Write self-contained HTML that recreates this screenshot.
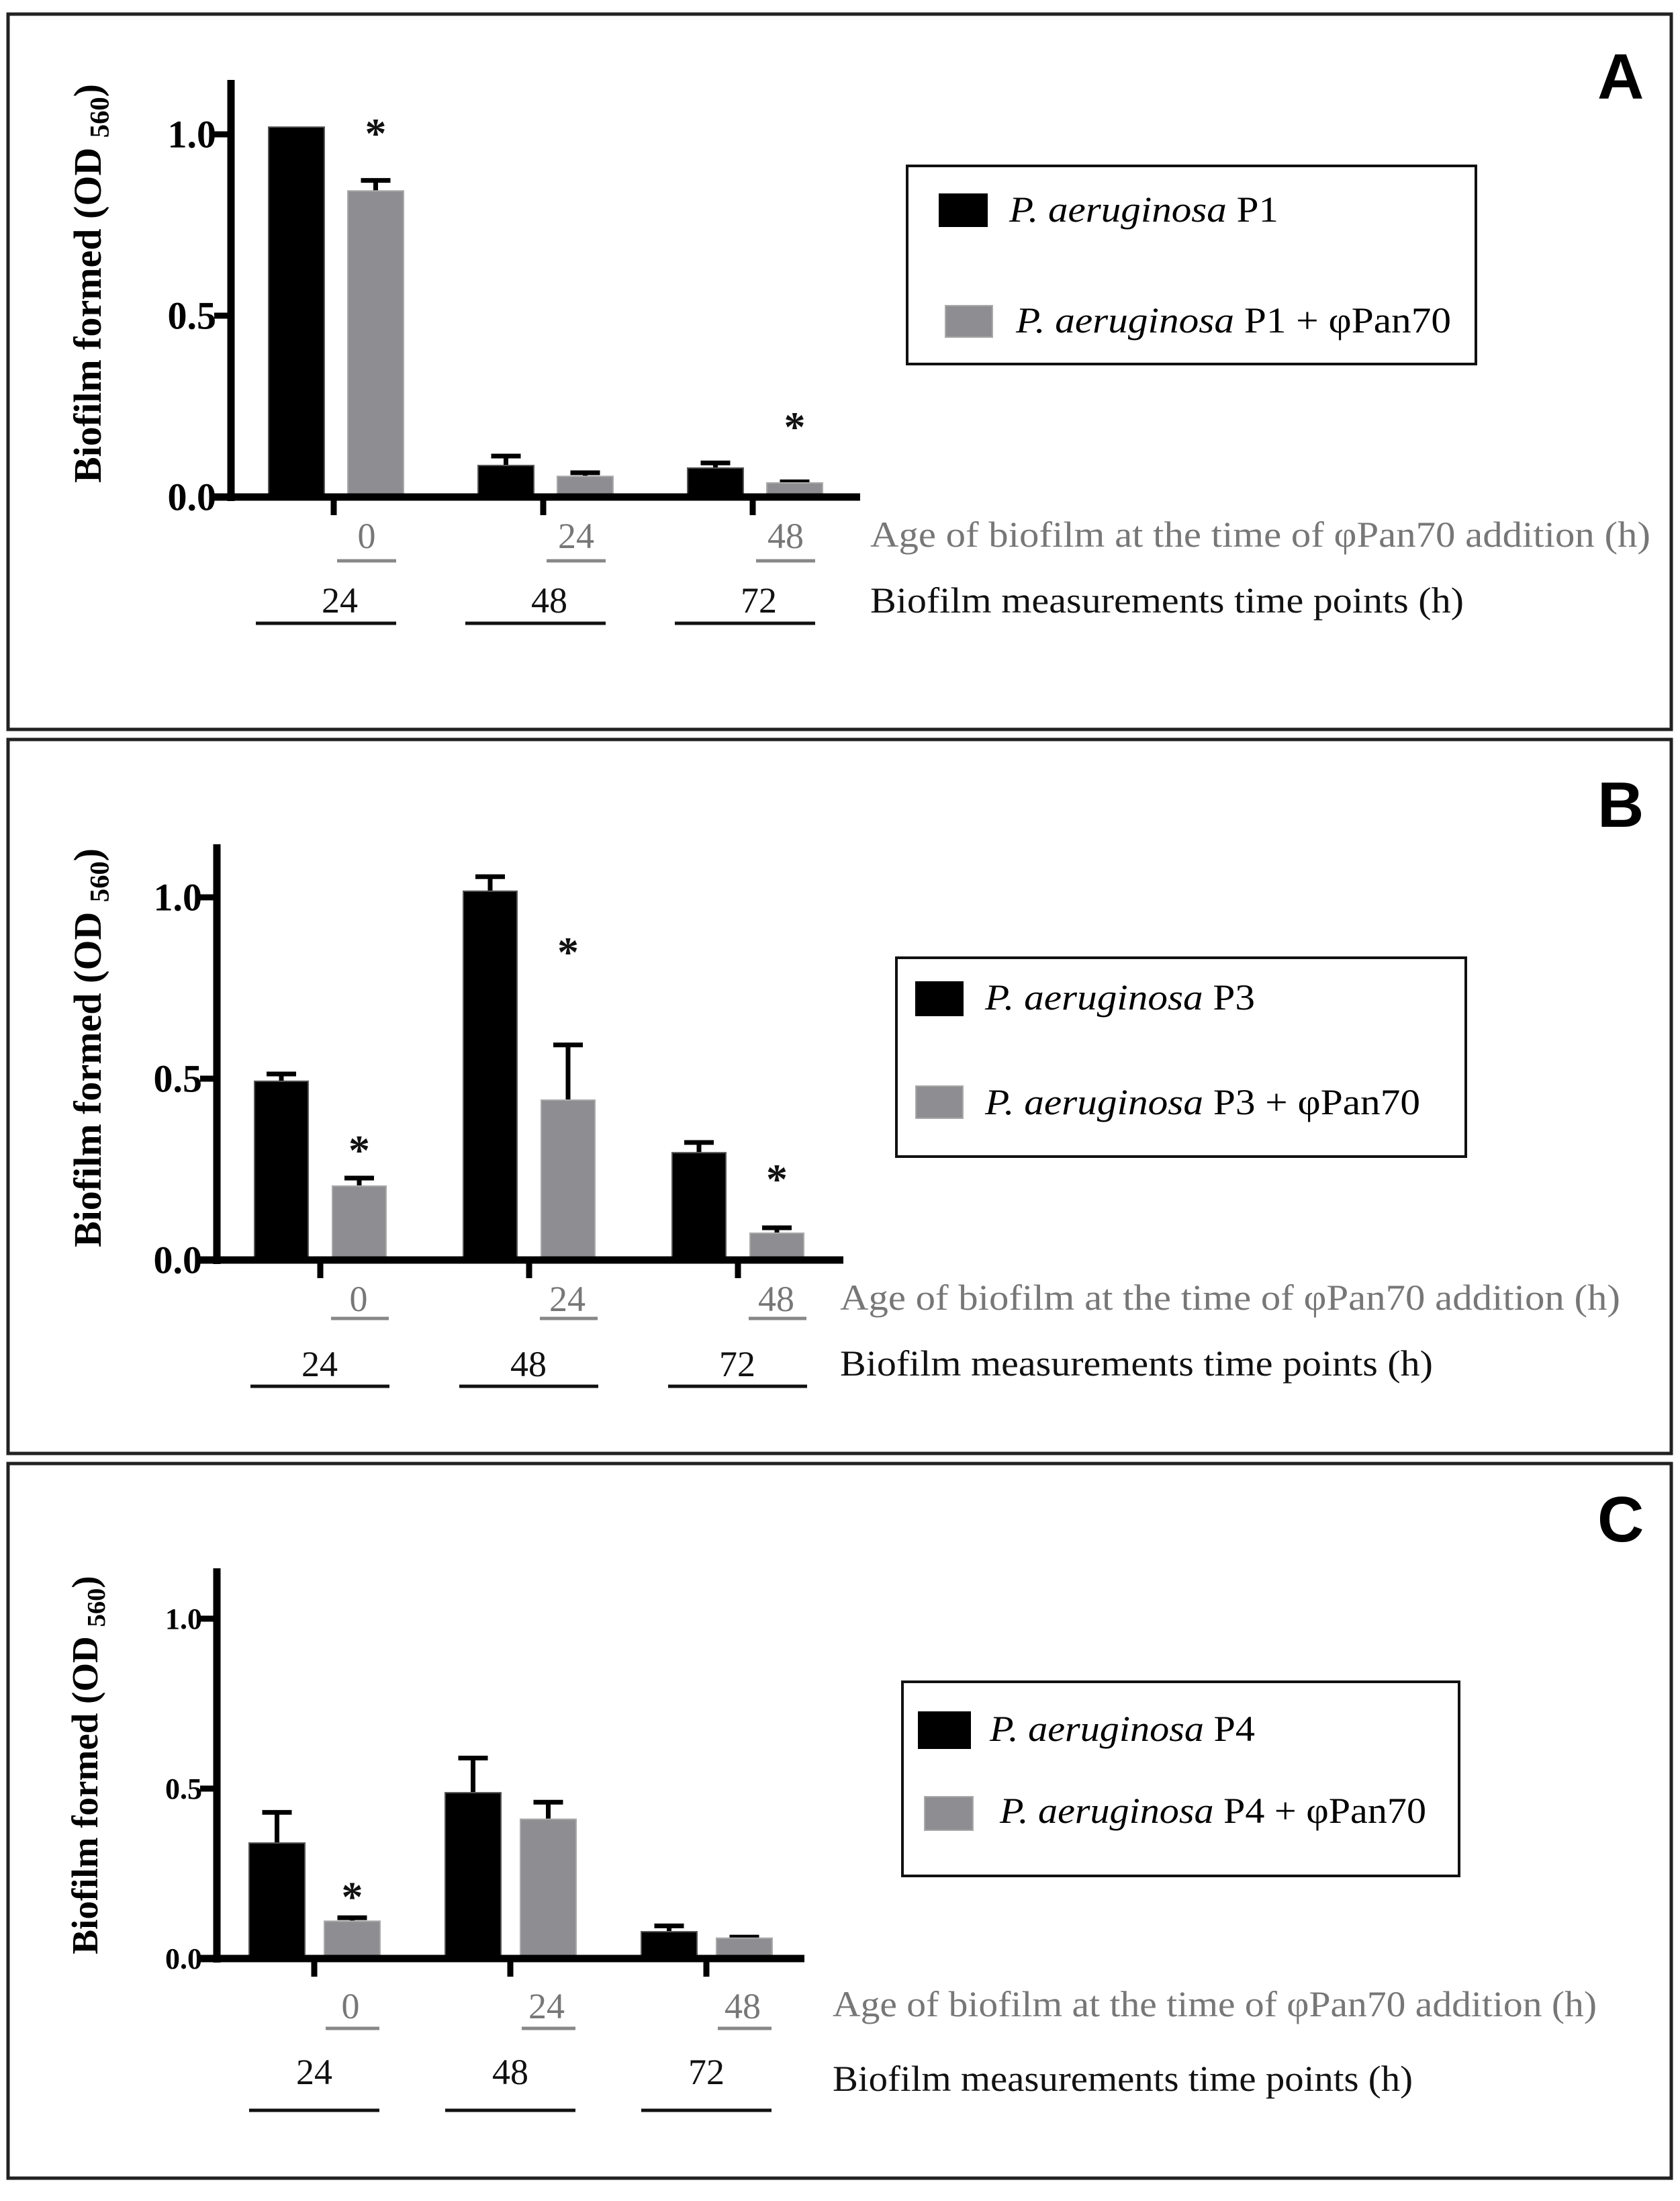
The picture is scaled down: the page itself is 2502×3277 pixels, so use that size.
<!DOCTYPE html>
<html><head><meta charset="utf-8"><style>
html,body{margin:0;padding:0;background:#fff;}
svg{display:block;}
</style></head><body>
<svg id="fig" xmlns="http://www.w3.org/2000/svg" width="2502" height="3277" viewBox="0 0 2502 3277"></svg>
<script>
// ---- Data ----
const yTicks = [0, 0.5, 1.0];
const yTickLabels = ["0.0", "0.5", "1.0"];
const ageLabels = ["0", "24", "48"];
const timeLabels = ["24", "48", "72"];

const aBlack = [1.02, 0.087, 0.080];
const aBlackErr = [0.0, 0.026, 0.014];
const aGray = [0.844, 0.057, 0.039];
const aGrayErr = [0.029, 0.010, 0.003];
const aSig = [1.03, null, 0.22];

const bBlack = [0.493, 1.017, 0.296];
const bBlackErr = [0.020, 0.040, 0.028];
const bGray = [0.204, 0.441, 0.074];
const bGrayErr = [0.022, 0.152, 0.015];
const bSig = [0.33, 0.876, 0.25];

const cBlack = [0.34, 0.488, 0.079];
const cBlackErr = [0.09, 0.102, 0.017];
const cGray = [0.11, 0.41, 0.06];
const cGrayErr = [0.01, 0.05, 0.003];
const cSig = [0.21, null, null];

const legendA = ["P1", "P1 + \u03c6Pan70"];
const legendB = ["P3", "P3 + \u03c6Pan70"];
const legendC = ["P4", "P4 + \u03c6Pan70"];

const NS = "http://www.w3.org/2000/svg";
const svg = document.getElementById("fig");
function mk(tag, attrs, parent) {
  const e = document.createElementNS(NS, tag);
  for (const k in attrs) e.setAttribute(k, attrs[k]);
  (parent || svg).appendChild(e);
  return e;
}

const panels = [
  {id:"a", letter:"A", top:21, bottom:1086, black:aBlack, blackErr:aBlackErr, gray:aGray, grayErr:aGrayErr, sig:aSig, legend:legendA,
   yZero:740, unit:540, axisX:344, axisTop:119, xLeft:319, xRight:1281, x0:400, step:312, barW:83, grayOff:118,
   tickOff:97, ageC:146, ageL:102, ageR:190, timeC:106, timeL:-19, timeR:190, tickFs:58, titleFs:58, titleX:150, titleY:422,
   ageY:816, ageLineY:835, timeY:912, timeLineY:928,
   lg:{x:1351,y:247,w:847,h:295, s1:[1399,289,71,48], s2:[1408,455,70,47], t1:[1503,330,401], t2:[1513,495,648]},
   ageText:[1296,814,1162], timeText:[1296,912,884], letterY:147},
  {id:"b", letter:"B", top:1101, bottom:2164, black:bBlack, blackErr:bBlackErr, gray:bGray, grayErr:bGrayErr, sig:bSig, legend:legendB,
   yZero:1876, unit:540, axisX:323, axisTop:1257, xLeft:294, xRight:1256, x0:379, step:311, barW:80, grayOff:116,
   tickOff:98, ageC:155, ageL:114, ageR:200, timeC:97, timeL:-6, timeR:201, tickFs:58, titleFs:58, titleX:150, titleY:1560,
   ageY:1952, ageLineY:1963, timeY:2049, timeLineY:2064,
   lg:{x:1335,y:1426,w:848,h:296, s1:[1364,1462,70,50], s2:[1364,1617,70,48], t1:[1467,1503,402], t2:[1467,1659,648]},
   ageText:[1251,1950,1162], timeText:[1251,2048,883], letterY:1231},
  {id:"c", letter:"C", top:2179, bottom:3243, black:cBlack, blackErr:cBlackErr, gray:cGray, grayErr:cGrayErr, sig:cSig, legend:legendC,
   yZero:2916, unit:506, axisX:323, axisTop:2335, xLeft:299, xRight:1198, x0:371, step:292, barW:83, grayOff:112,
   tickOff:97, ageC:151, ageL:114, ageR:194, timeC:97, timeL:0, timeR:194, tickFs:44, titleFs:55, titleX:145, titleY:2628,
   ageY:3005, ageLineY:3020, timeY:3103, timeLineY:3142,
   lg:{x:1344,y:2504,w:829,h:289, s1:[1368,2549,77,54], s2:[1377,2675,72,50], t1:[1474,2592,395], t2:[1489,2714,635]},
   ageText:[1240,3002,1138], timeText:[1240,3113,864], letterY:2295}
];

const serif = '"Liberation Serif", "DejaVu Serif", serif';
const sans = '"Liberation Sans", "DejaVu Sans", sans-serif';

panels.forEach(p => {
  const yS = v => p.yZero - v * p.unit;
  const g = mk("g", {});
  
  

  const fr = mk("rect", {x:12, y:p.top, width:2477, height:p.bottom - p.top, fill:"none", stroke:"#222", "stroke-width":5}, g);
  
  

  const lt = mk("text", {x:2379, y:p.letterY, "font-family":sans, "font-weight":"bold", "font-size":96, fill:"#000"}, g);
  lt.textContent = p.letter;
  
  

  for (let i = 0; i < p.black.length; i++) {
    const gx = p.x0 + i * p.step;
    [[p.black, p.blackErr, 0, "#000", "#555", "black"], [p.gray, p.grayErr, p.grayOff, "#8e8e92", "#aaaaaa", "gray"]].forEach(s => {
      const vals = s[0], errs = s[1], off = s[2];
      const x = gx + off, top = yS(vals[i]);
      if (errs[i] > 0) {
        const ey = yS(vals[i] + errs[i]);
        const cx = x + p.barW / 2;
        const eb = mk("path", {d:`M${cx},${top} V${ey} M${cx-22},${ey} H${cx+22}`, stroke:"#000", "stroke-width":7, fill:"none"}, g);
        
        
      }
      const r = mk("rect", {x:x, y:top, width:p.barW, height:p.yZero - top, fill:s[3], stroke:s[4], "stroke-width":2}, g);
      
      
    });
    if (p.sig[i] !== null) {
      const st = mk("text", {x:gx + p.grayOff + p.barW/2, y:yS(p.sig[i]) + 36, "text-anchor":"middle", "font-family":serif, "font-weight":"bold", "font-size":64, fill:"#111"}, g);
      st.textContent = "*";
      
      
    }
    const tk = mk("line", {x1:gx + p.tickOff, y1:p.yZero, x2:gx + p.tickOff, y2:p.yZero + 27, stroke:"#000", "stroke-width":9}, g);
    
    
    const al = mk("text", {x:gx + p.ageC, y:p.ageY, "text-anchor":"middle", "font-family":serif, "font-size":54, fill:"#777"}, g);
    al.textContent = ageLabels[i];
    
    
    const all = mk("line", {x1:gx + p.ageL, y1:p.ageLineY, x2:gx + p.ageR, y2:p.ageLineY, stroke:"#888", "stroke-width":5}, g);
    
    
    const tl = mk("text", {x:gx + p.timeC, y:p.timeY, "text-anchor":"middle", "font-family":serif, "font-size":54, fill:"#111"}, g);
    tl.textContent = timeLabels[i];
    
    
    const tll = mk("line", {x1:gx + p.timeL, y1:p.timeLineY, x2:gx + p.timeR, y2:p.timeLineY, stroke:"#111", "stroke-width":5}, g);
    
    
  }

  const ya = mk("line", {x1:p.axisX, y1:p.axisTop, x2:p.axisX, y2:p.yZero + 6, stroke:"#000", "stroke-width":11}, g);
  
  
  const xa = mk("line", {x1:p.xLeft, y1:p.yZero, x2:p.xRight, y2:p.yZero, stroke:"#000", "stroke-width":11}, g);
  
  
  yTicks.forEach((t, k) => {
    const y = yS(t);
    const yt = mk("line", {x1:p.axisX - 25, y1:y, x2:p.axisX, y2:y, stroke:"#000", "stroke-width":9}, g);
    
    
    const yl = mk("text", {x:p.axisX - 22, y:y + p.tickFs*0.34, "text-anchor":"end", "font-family":serif, "font-weight":"bold", "font-size":p.tickFs, fill:"#000"}, g);
    yl.textContent = yTickLabels[k];
    
    
  });

  const yt = mk("text", {transform:`translate(${p.titleX},${p.titleY}) rotate(-90)`, "text-anchor":"middle", "font-family":serif, "font-weight":"bold", "font-size":p.titleFs, fill:"#000"}, g);
  
  
  const t1 = mk("tspan", {}, yt); t1.textContent = "Biofilm formed (OD ";
  const t2 = mk("tspan", {"font-size":p.titleFs*0.7, dy:p.titleFs*0.2}, yt); t2.textContent = "560";
  const t3 = mk("tspan", {dy:-p.titleFs*0.2}, yt); t3.textContent = ")";

  const at = mk("text", {x:p.ageText[0], y:p.ageText[1], textLength:p.ageText[2], lengthAdjust:"spacingAndGlyphs", "font-family":serif, "font-size":54, fill:"#777"}, g);
  at.textContent = "Age of biofilm at the time of \u03c6Pan70 addition (h)";
  
  
  const mt = mk("text", {x:p.timeText[0], y:p.timeText[1], textLength:p.timeText[2], lengthAdjust:"spacingAndGlyphs", "font-family":serif, "font-size":54, fill:"#111"}, g);
  mt.textContent = "Biofilm measurements time points (h)";
  
  

  const L = p.lg;
  const lb = mk("rect", {x:L.x, y:L.y, width:L.w, height:L.h, fill:"#fff", stroke:"#111", "stroke-width":4}, g);
  
  
  [[L.s1, L.t1, "#000", "#000", 0], [L.s2, L.t2, "#8e8e92", "#aaa", 1]].forEach(e => {
    const sw = mk("rect", {x:e[0][0], y:e[0][1], width:e[0][2], height:e[0][3], fill:e[2], stroke:e[3], "stroke-width":2}, g);
    
    
    const tx = mk("text", {x:e[1][0], y:e[1][1], textLength:e[1][2], lengthAdjust:"spacingAndGlyphs", "font-family":serif, "font-size":54, fill:"#000"}, g);
    
    
    const i1 = mk("tspan", {"font-style":"italic"}, tx); i1.textContent = "P. aeruginosa ";
    const i2 = mk("tspan", {}, tx); i2.textContent = p.legend[e[4]];
  });
});
</script>
</body></html>
